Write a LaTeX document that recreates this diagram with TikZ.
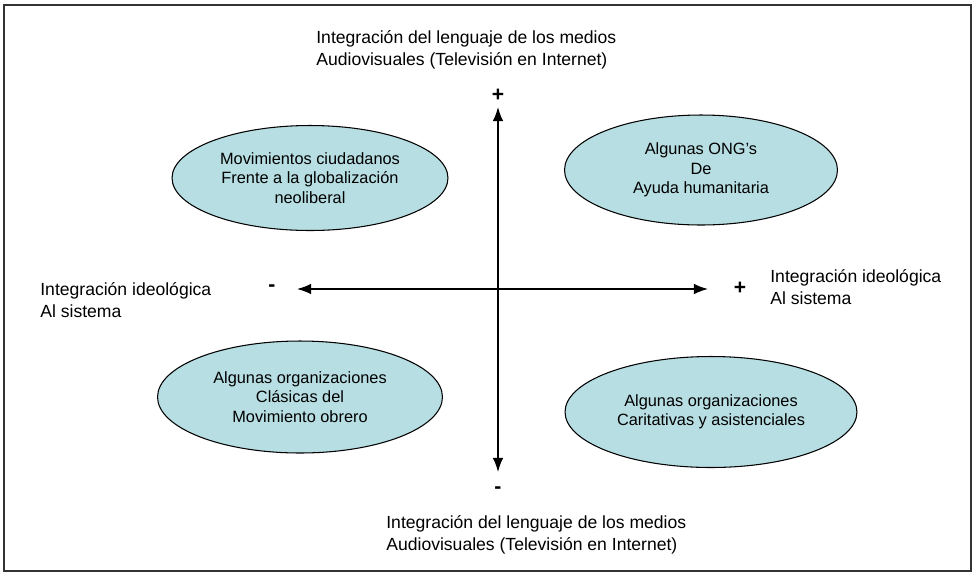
\documentclass[tikz,border=0pt]{standalone}
\usepackage{fontspec}
\setmainfont{Liberation Sans}
\usetikzlibrary{shapes.geometric,arrows.meta}
\definecolor{cellfill}{RGB}{183,222,226}
\tikzset{
  grupo/.style={ellipse,draw,fill=cellfill,line width=0.6pt,inner sep=0pt,
    align=center,font=\fontsize{9.3}{11}\selectfont},
  eje/.style={{Latex[length=8pt,width=6pt]}-{Latex[length=8pt,width=6pt]},line width=0.8pt},
  rotulo/.style={align=left,anchor=north west,inner sep=0pt,font=\fontsize{10}{12.4}\selectfont},
  signo/.style={font=\fontsize{12}{12}\selectfont\bfseries}
}
\begin{document}
\begin{tikzpicture}[x=0.02cm,y=-0.02cm]
\useasboundingbox (0,0) rectangle (975,576);
\draw[line width=0.6pt,black!80](4,5) rectangle (971,571);
% ejes
\coordinate (arriba) at (498,107);
\coordinate (abajo) at (498,472);
\coordinate (izq) at (297,289);
\coordinate (der) at (708,289);
\draw[eje](abajo)--(arriba);
\draw[eje](izq)--(der);
\node[signo] (mas1) at (498,95){+};
\node[signo] (menos1) at (498,490){-};
\node[signo] (menos2) at (272,288){-};
\node[signo] (mas2) at (740,288){+};
% textos de los ejes
\node[rotulo] (lenguaje1) at (316,30){Integración del lenguaje de los medios\\Audiovisuales (Televisión en Internet)};
\node[rotulo] (lenguaje2) at (386,515){Integración del lenguaje de los medios\\Audiovisuales (Televisión en Internet)};
\node[rotulo] (ideo1) at (40,282){Integración ideológica\\Al sistema};
\node[rotulo] (ideo2) at (770,269){Integración ideológica\\Al sistema};
% grupos
\node[grupo,minimum width=5.52cm,minimum height=2.1cm] (mov) at (310,178){Movimientos ciudadanos\\Frente a la globalización\\neoliberal};
\node[grupo,minimum width=5.46cm,minimum height=2.2cm] (ong) at (701,170){Algunas ONG’s\\De\\Ayuda humanitaria};
\node[grupo,minimum width=5.7cm,minimum height=2.24cm] (obrero) at (300,397){Algunas organizaciones\\Clásicas del\\Movimiento obrero};
\node[grupo,minimum width=5.84cm,minimum height=2.22cm] (carit) at (711,412){Algunas organizaciones\\Caritativas y asistenciales};
\end{tikzpicture}
\end{document}
